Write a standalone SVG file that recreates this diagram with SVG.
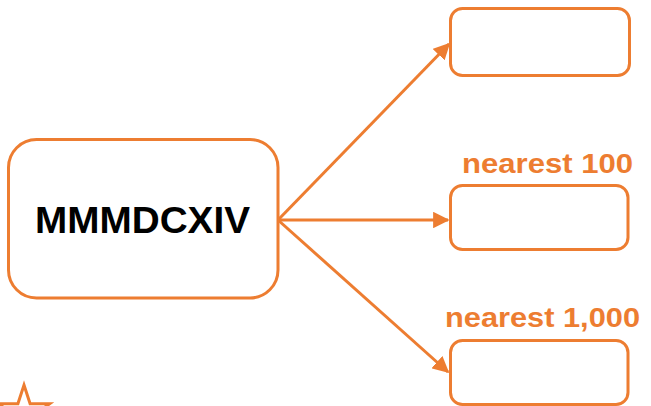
<svg xmlns="http://www.w3.org/2000/svg" width="651" height="406" viewBox="0 0 651 406">
<style>
.box{fill:#fff;stroke:#ED7D31;stroke-width:3}
.conn{stroke:#ED7D31;stroke-width:3;fill:none}
.lbl{font-family:"Liberation Sans",Arial,sans-serif;font-weight:bold;fill:#ED7D31}
.main{font-family:"Liberation Sans",Arial,sans-serif;font-weight:bold;fill:#000}
</style>
<defs>
<marker id="ah" viewBox="0 0 10 10" refX="9" refY="5" markerWidth="5.5" markerHeight="5.5" orient="auto" markerUnits="strokeWidth">
<path d="M0,0 L10,5 L0,10 z" fill="#ED7D31"/>
</marker>
</defs>
<rect width="651" height="406" fill="#fff"/>
<g id="connectors">
<line class="conn" x1="278" y1="220" x2="449" y2="44" marker-end="url(#ah)"/>
<line class="conn" x1="278" y1="220" x2="448" y2="220" marker-end="url(#ah)"/>
<line class="conn" x1="278" y1="220" x2="448" y2="372" marker-end="url(#ah)"/>
</g>
<g id="main">
<rect class="box" x="8.5" y="139.5" width="269.5" height="158.5" rx="28"/>
<text class="main" x="35" y="233" font-size="36" textLength="215" lengthAdjust="spacingAndGlyphs">MMMDCXIV</text>
</g>
<g id="box-top">
<rect class="box" x="450.5" y="8.5" width="179" height="67" rx="12"/>
</g>
<g id="box-100">
<text class="lbl" x="462" y="173" font-size="27" textLength="171" lengthAdjust="spacingAndGlyphs">nearest 100</text>
<rect class="box" x="450.5" y="185.5" width="177.5" height="64" rx="12"/>
</g>
<g id="box-1000">
<text class="lbl" x="445" y="327" font-size="27" textLength="195" lengthAdjust="spacingAndGlyphs">nearest 1,000</text>
<rect class="box" x="450.5" y="340.5" width="177.5" height="64" rx="12"/>
</g>
<g id="star">
<polygon points="24,385 30.1,403.7 49.7,403.7 33.9,415.2 39.9,433.8 24,422.3 8.1,433.8 14.1,415.2 -1.7,403.7 17.9,403.7" fill="none" stroke="#ED7D31" stroke-width="3" stroke-linejoin="miter"/>
</g>
</svg>
